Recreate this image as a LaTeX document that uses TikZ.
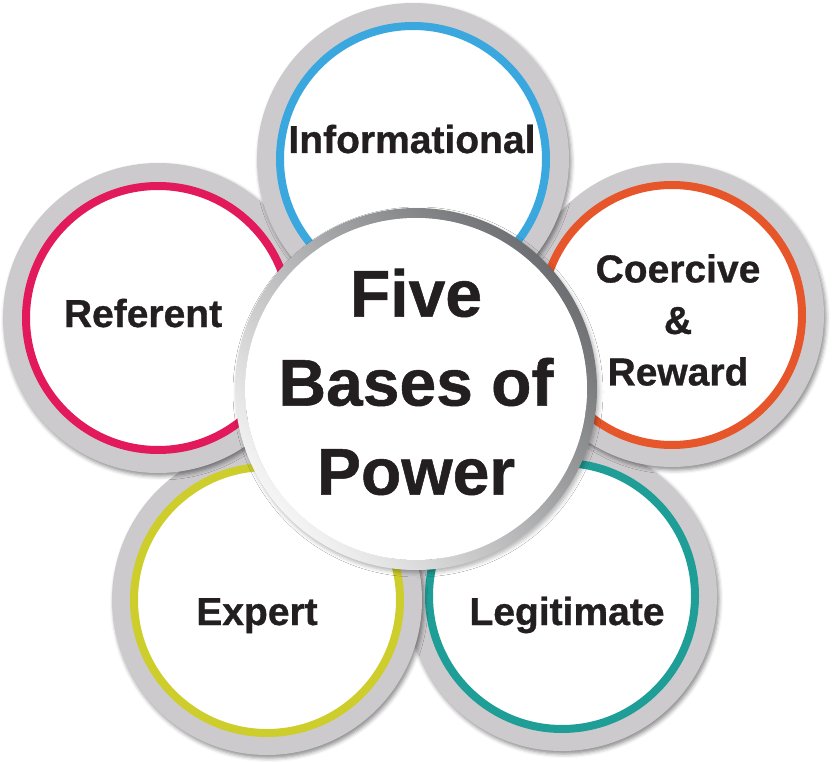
\documentclass[tikz,border=0pt]{standalone}
\usepackage{fontspec}
\setmainfont{Liberation Sans}[BoldFeatures={FakeBold=0.8}]
\usetikzlibrary{shadows.blur}
\definecolor{rimgray}{HTML}{CCCACD}
\definecolor{rimdark}{HTML}{6D6E71}
\definecolor{infoblue}{HTML}{3AA8DF}
\definecolor{refpink}{HTML}{E2195A}
\definecolor{coerorange}{HTML}{E6562A}
\definecolor{expyellow}{HTML}{CDCD2B}
\definecolor{legteal}{HTML}{1E9E96}
\definecolor{inkblack}{HTML}{231F20}
\tikzset{
  rim/.style={fill=rimgray,blur shadow={shadow xshift=2pt,shadow yshift=-3pt,shadow blur radius=4pt,shadow opacity=45}},
  ring/.style={draw=#1,line width=8pt,fill=white},
  petaltext/.style={font=\fontsize{39}{51.5}\selectfont\bfseries,text=inkblack,align=center,inner sep=0pt},
  coretext/.style={font=\fontsize{66}{89}\selectfont\bfseries,text=inkblack,align=center,inner sep=0pt}
}
\begin{document}
\begin{tikzpicture}[x=1pt,y=-1pt]
    \useasboundingbox (0,0) rectangle (836,762);
    %centres
    \coordinate (legit) at (562,596);
    \coordinate (coer) at (672,315);
    \coordinate (expert) at (267,600);
    \coordinate (refer) at (158,318);
    \coordinate (info) at (413,159);
    \coordinate (core) at (416,389);
    %petals, lowest first
    \fill[rim] (legit) circle[radius=155];
    \draw[ring=legteal] (legit) circle[radius=133];
    \fill[rim] (coer) circle[radius=152];
    \draw[ring=coerorange] (coer) circle[radius=130];
    \fill[rim] (expert) circle[radius=155];
    \draw[ring=expyellow] (expert) circle[radius=133];
    \fill[rim] (refer) circle[radius=155];
    \draw[ring=refpink] (refer) circle[radius=132];
    \fill[rim] (info) circle[radius=156];
    \draw[ring=infoblue] (info) circle[radius=133];
    %centre circle
    \shade[even odd rule,top color=rimdark,bottom color=gray!8,shading angle=-50,
      blur shadow={shadow xshift=2pt,shadow yshift=-3pt,shadow blur radius=4pt,shadow opacity=30}]
      (core) circle[radius=181] (core) circle[radius=171];
    \fill[white] (core) circle[radius=171];
    %labels
    \node[petaltext,anchor=base] (infolabel) at (412,153) {Informational};
    \node[petaltext,anchor=base] (referlabel) at (143,327) {Referent};
    \node[petaltext] (coerlabel) at (678,320) {Coercive\\\&\\Reward};
    \node[petaltext,anchor=base] (expertlabel) at (257,625) {Expert};
    \node[petaltext,anchor=base] (legitlabel) at (567,625) {Legitimate};
    \node[coretext] (title) at (416,382) {Five\\Bases of\\Power};
\end{tikzpicture}
\end{document}
